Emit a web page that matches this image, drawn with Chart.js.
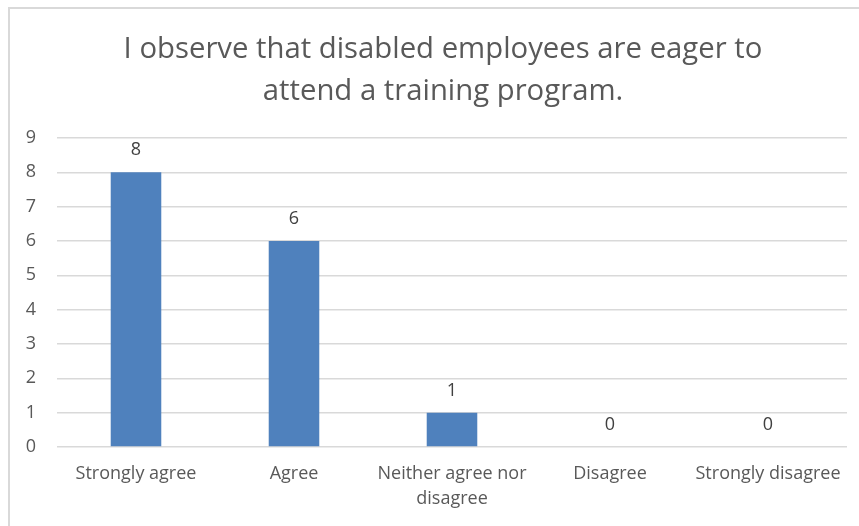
<!DOCTYPE html>
<html>
<head>
<meta charset="utf-8">
<script src="https://cdn.jsdelivr.net/npm/chart.js@4"></script>
<style>
  html, body { margin: 0; padding: 0; background: #fff; overflow: hidden; width: 859px; height: 526px; }
  .frame { position: absolute; left: 8px; top: 7px; width: 900px; height: 600px; border: 2px solid #d9d9d9; }
  #chart { position: absolute; left: 0; top: 0; }
</style>
</head>
<body>
<div class="frame"></div>
<canvas id="chart" width="859" height="526"></canvas>
<script>
const categories = ["Strongly agree", "Agree", ["Neither agree nor", "disagree"], "Disagree", "Strongly disagree"];
const counts = [8, 6, 1, 0, 0];
const titleLines = ["I observe that disabled employees are eager to", "attend a training program."];

// draws the number above each bar
const valueLabels = {
    id: "valueLabels",
    afterDatasetsDraw(chart) {
        const ctx = chart.ctx;
        const meta = chart.getDatasetMeta(0);
        ctx.save();
        ctx.font = "18px 'Open Sans'";
        ctx.fillStyle = "#404040";
        ctx.textAlign = "center";
        ctx.textBaseline = "middle";
        meta.data.forEach((bar, i) => {
            ctx.fillText(counts[i], bar.x, bar.y - 22);
        });
        ctx.restore();
    }
};

// the original frame is wider than the picture, so the title sits right of the canvas centre
const offsetTitle = {
    id: "offsetTitle",
    afterDraw(chart) {
        const ctx = chart.ctx;
        ctx.save();
        ctx.font = "29.3px 'Open Sans'";
        ctx.fillStyle = "#595959";
        ctx.textAlign = "center";
        ctx.textBaseline = "middle";
        titleLines.forEach((line, i) => ctx.fillText(line, 443, 50 + i * 42));
        ctx.restore();
    }
};

new Chart("chart", {
    type: "bar",
    data: {
        labels: categories,
        datasets: [{
            data: counts,
            backgroundColor: "#4f81bd",
            categoryPercentage: 0.64,
            barPercentage: 0.5
        }]
    },
    options: {
        responsive: false,
        animation: false,
        layout: { padding: { left: 0, right: 12, top: 138, bottom: 9 } },
        plugins: {
            legend: { display: false },
            tooltip: { enabled: false },
            title: { display: false }
        },
        scales: {
            x: {
                grid: { display: false },
                border: { display: false },
                ticks: {
                    color: "#595959",
                    font: { family: "'Open Sans'", size: 18, lineHeight: 1.39 },
                    padding: 6,
                    maxRotation: 0,
                    autoSkip: false
                }
            },
            y: {
                min: 0,
                max: 9,
                border: { display: false },
                grid: { color: "#d9d9d9", lineWidth: 1.5, drawTicks: false },
                ticks: {
                    stepSize: 1,
                    color: "#595959",
                    font: { family: "'Open Sans'", size: 18 },
                    padding: 21
                },
                afterFit(scale) { scale.width = 57; }
            }
        }
    },
    plugins: [valueLabels, offsetTitle]
});
</script>
</body>
</html>
